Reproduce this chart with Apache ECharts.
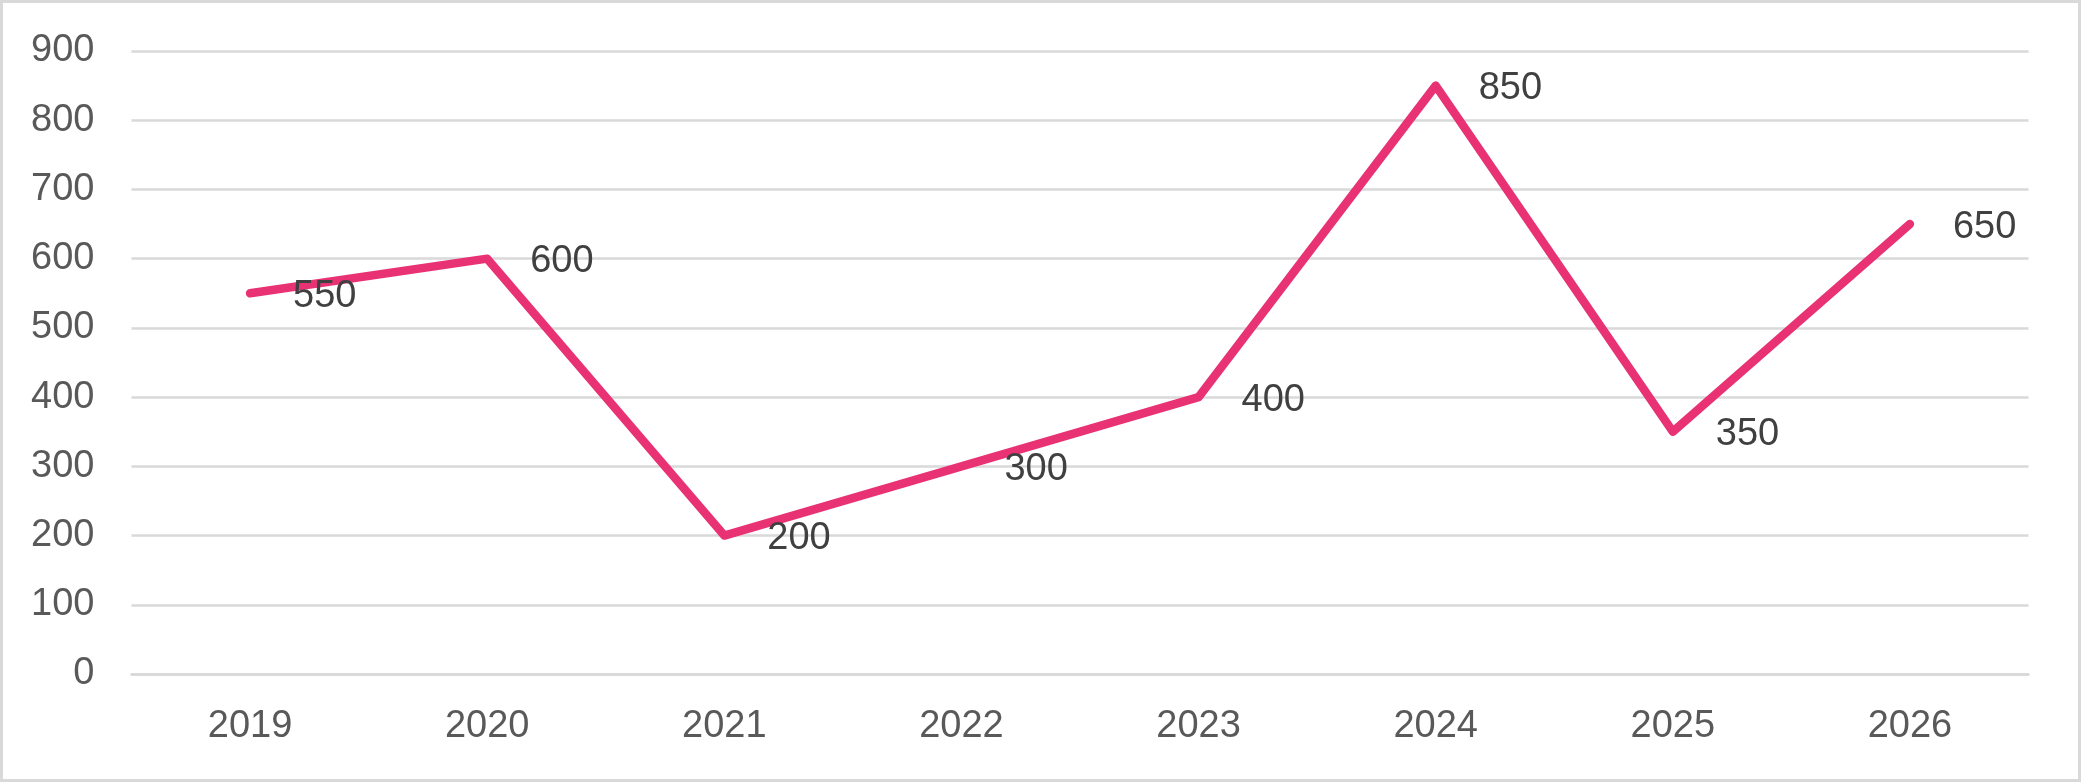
<!DOCTYPE html>
<html lang="en">
  <head>
    <meta charset="UTF-8" />
    <title>Line chart</title>
    <script src="https://cdn.jsdelivr.net/npm/echarts@6/dist/echarts.min.js"></script>
    <style>
      html, body { margin: 0; padding: 0; background: #fff; }
      #chart {
        width: 2081px;
        height: 782px;
        box-sizing: border-box;
        border: 3px solid #d9d9d9;
      }
    </style>
  </head>
  <body>
    <div id="chart"></div>
    <script>
      // chart data
      const years = ["2019", "2020", "2021", "2022", "2023", "2024", "2025", "2026"];
      const values = [550, 600, 200, 300, 400, 850, 350, 650];
      const yTicks = [0, 100, 200, 300, 400, 500, 600, 700, 800, 900];

      const chart = echarts.init(document.getElementById("chart"));

      chart.setOption({
        animation: false,
        grid: { left: 128.5, right: 49.5, top: 48, bottom: 105 },
        xAxis: {
          type: "category",
          data: years,
          boundaryGap: true,
          axisLine: { lineStyle: { color: "#d9d9d9", width: 2.5 } },
          axisTick: { show: false },
          axisLabel: {
            color: "#595959",
            fontFamily: "Liberation Sans",
            fontSize: 38,
            lineHeight: 38,
            margin: 34
          }
        },
        yAxis: {
          type: "value",
          min: yTicks[0],
          max: yTicks[yTicks.length - 1],
          interval: 100,
          axisLine: { show: false },
          axisTick: { show: false },
          splitLine: { lineStyle: { color: "#d9d9d9", width: 2.5 } },
          axisLabel: {
            color: "#595959",
            fontFamily: "Liberation Sans",
            fontSize: 38,
            margin: 37
          }
        },
        series: [
          {
            type: "line",
            data: values,
            symbol: "circle",
            symbolSize: 2,
            itemStyle: { color: "#e83273" },
            lineStyle: { color: "#e83273", width: 8.5, cap: "round", join: "round" },
            label: {
              show: true,
              position: "right",
              distance: 42,
              offset: [0, 3],
              color: "#404040",
              fontFamily: "Liberation Sans",
              fontSize: 38
            }
          }
        ]
      });
    </script>
  </body>
</html>
